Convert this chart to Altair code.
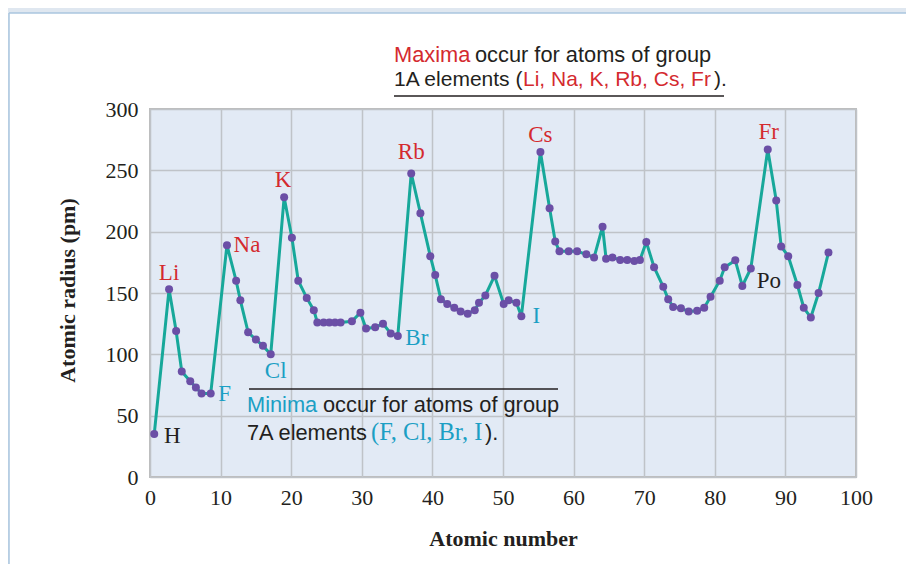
import altair as alt
import pandas as pd

# ---- data ----
elements = ["H", "Li", "Be", "B", "C", "N", "O", "F",
            "Na", "Mg", "Al", "Si", "P", "S", "Cl",
            "K", "Ca", "Sc", "Ti", "V", "Cr", "Mn", "Fe", "Co", "Ni", "Cu", "Zn",
            "Ga", "Ge", "As", "Se", "Br",
            "Rb", "Sr", "Y", "Zr", "Nb", "Mo", "Tc", "Ru", "Rh", "Pd", "Ag", "Cd",
            "In", "Sn", "Sb", "Te", "I",
            "Cs", "Ba", "La", "Ce", "Pr", "Nd", "Pm", "Sm", "Eu", "Gd", "Tb", "Dy",
            "Ho", "Er", "Tm", "Yb", "Lu",
            "Hf", "Ta", "W", "Re", "Os", "Ir", "Pt", "Au", "Hg", "Tl", "Pb", "Bi", "Po",
            "Fr", "Ra", "Ac", "Th", "Pa", "U", "Np", "Pu", "Am"]

atomic_number = [0.6, 2.7, 3.7, 4.5, 5.7, 6.5, 7.3, 8.6,
                 10.9, 12.2, 12.8, 13.9, 15.0, 16.0, 17.1,
                 19.0, 20.1, 21.0, 22.2, 23.2, 23.7, 24.6, 25.4, 26.2, 27.0, 28.6, 29.8,
                 30.6, 31.9, 33.0, 34.1, 35.1,
                 37.0, 38.3, 39.7, 40.4, 41.2, 42.1, 43.1, 44.0, 45.0, 46.0, 46.6, 47.5,
                 48.8, 50.1, 50.8, 51.9, 52.6,
                 55.3, 56.6, 57.4, 58.0, 59.3, 60.5, 61.8, 62.9, 64.1, 64.6, 65.5, 66.6,
                 67.6, 68.6, 69.4, 70.3, 71.4,
                 72.7, 73.4, 74.1, 75.2, 76.3, 77.5, 78.5, 79.4, 80.7, 81.4, 82.9, 83.9, 85.1,
                 87.5, 88.7, 89.4, 90.4, 91.7, 92.6, 93.6, 94.7, 96.1]

radius_pm = [35, 153, 119, 86, 78, 73, 68, 68,
             189, 160, 144, 118, 112, 107, 100,
             228, 195, 160, 146, 136, 126, 126, 126, 126, 126, 127, 134,
             121, 122, 125, 117, 115,
             247.5, 215, 180, 164.6, 145, 141, 138, 135, 133, 136, 142, 148,
             164, 141, 144, 142, 131,
             265, 219, 192, 184, 184, 184, 181.5, 179, 204, 178, 179, 177,
             177, 176, 177, 191.5, 171,
             155, 145, 138.6, 137.5, 135, 135.6, 138, 147, 160, 171, 176.6, 155.7, 170,
             267, 225.5, 188, 180, 156.5, 138, 130, 150, 183]

x_ticks = [0, 10, 20, 30, 40, 50, 60, 70, 80, 90, 100]
y_ticks = [0, 50, 100, 150, 200, 250, 300]

df = pd.DataFrame({"Z": atomic_number, "r": radius_pm, "el": elements})
one = pd.DataFrame({"k": [0]})

# ---- styles ----
RED = "#d42a2f"
CYAN = "#1b9fc4"
DARK = "#231f20"
TEAL = "#17a89a"
PURPLE = "#6b4fa6"
PLOT = "#e2eaf5"
FRAME = "#dfe7f0"
SERIF = "Liberation Serif"
SANS = "Liberation Sans"

W, H = 706, 368

xenc = alt.X("Z:Q",
             scale=alt.Scale(domain=[0, 100], nice=False, zero=False),
             axis=alt.Axis(values=x_ticks, title="Atomic number", grid=True,
                           gridColor="#bfc3c8", gridWidth=1.5, domain=False,
                           ticks=False, tickSize=0, labelPadding=20,
                           labelBaseline="middle", labelFlush=False,
                           labelOverlap=False,
                           labelFont=SERIF, labelFontSize=22, labelColor=DARK,
                           titleFont=SERIF, titleFontSize=22, titleFontWeight="bold",
                           titleColor=DARK, titleX=353, titleY=61,
                           titleBaseline="middle", titleAlign="center"))
yenc = alt.Y("r:Q",
             scale=alt.Scale(domain=[0, 300], nice=False),
             axis=alt.Axis(values=y_ticks, title="Atomic radius (pm)", grid=True,
                           gridColor="#bfc3c8", gridWidth=1.5, domain=False,
                           ticks=False, tickSize=0, labelPadding=12,
                           labelFlush=False, labelOverlap=False,
                           labelFont=SERIF, labelFontSize=22, labelColor=DARK,
                           titleFont=SERIF, titleFontSize=22, titleFontWeight="bold",
                           titleColor=DARK, titleX=-83, titleY=181,
                           titleBaseline="middle", titleAlign="center"))

base = alt.Chart(df)
line = base.mark_line(color=TEAL, strokeWidth=3).encode(x=xenc, y=yenc, order="Z:Q")
pts = base.mark_circle(color=PURPLE, size=64, opacity=1).encode(x="Z:Q", y="r:Q")

# element labels: (color, dx, dy)
label_style = {
    "H": (DARK, 18, 2),
    "Li": (RED, 0, -16),
    "Na": (RED, 20, 0),
    "K": (RED, -1, -17),
    "Rb": (RED, 0, -21),
    "Cs": (RED, 0, -17),
    "Fr": (RED, 1, -17),
    "F": (CYAN, 14, 0),
    "Cl": (CYAN, 5, 17),
    "Br": (CYAN, 19, 2),
    "I": (CYAN, 15, 0),
    "Po": (DARK, 18, 13),
}
label_layers = []
for name, (col, dx, dy) in label_style.items():
    label_layers.append(
        base.transform_filter(alt.datum.el == name)
        .mark_text(font=SERIF, fontSize=23, color=col, dx=dx, dy=dy,
                   align="center", baseline="middle")
        .encode(x="Z:Q", y="r:Q", text="el:N")
    )

# outer frame strips (in padding area only)
ob = alt.Chart(one)
top_strip = ob.mark_rect(color=FRAME).encode(
    x=alt.value(-142), x2=alt.value(756), y=alt.value(-101), y2=alt.value(-96))
left_strip = ob.mark_rect(color=FRAME).encode(
    x=alt.value(-142), x2=alt.value(-141), y=alt.value(-101), y2=alt.value(455))
top_border = ob.mark_rule(color="#aac6df", strokeWidth=1.5).encode(
    x=alt.value(-141), x2=alt.value(756), y=alt.value(-96))
left_border = ob.mark_rule(color="#aac6df", strokeWidth=1.5).encode(
    x=alt.value(-141), y=alt.value(-96), y2=alt.value(455))


def txt(s, x, y, color, font=SANS, size=21.8):
    return ob.mark_text(text=s, font=font, fontSize=size, color=color,
                        align="left", baseline="middle").encode(
        x=alt.value(x), y=alt.value(y))


annotations = [
    txt("Maxima", 244, -54, RED),
    txt("occur for atoms of group", 325, -54, DARK),
    txt("1A elements (", 244, -29, DARK, size=21),
    txt("Li, Na, K, Rb, Cs, Fr", 373, -29, RED, size=21),
    txt(").", 564, -29, DARK, size=21),
    ob.mark_rule(color=DARK, strokeWidth=1.5).encode(
        x=alt.value(244), x2=alt.value(574), y=alt.value(-13)),
    ob.mark_rule(color=DARK, strokeWidth=1.5).encode(
        x=alt.value(99), x2=alt.value(408), y=alt.value(280)),
    txt("Minima", 97, 296, CYAN),
    txt("occur for atoms of group", 173, 296, DARK),
    txt("7A elements", 97, 324, DARK),
    txt("(F, Cl, Br, I", 221, 324, CYAN, font=SERIF, size=24.5),
    txt(").", 335, 324, DARK),
]

chart = alt.layer(
    top_strip, left_strip, top_border, left_border,
    line, pts, *label_layers, *annotations
).properties(
    width=W, height=H,
    autosize=alt.AutoSizeParams(type="none"),
    padding={"left": 142, "top": 101, "right": 50, "bottom": 87},
    background="white",
).configure_view(fill=PLOT, stroke="#bdbdbd", strokeWidth=2)

chart.save("out.html", embed_options={"renderer": "svg", "actions": False})
